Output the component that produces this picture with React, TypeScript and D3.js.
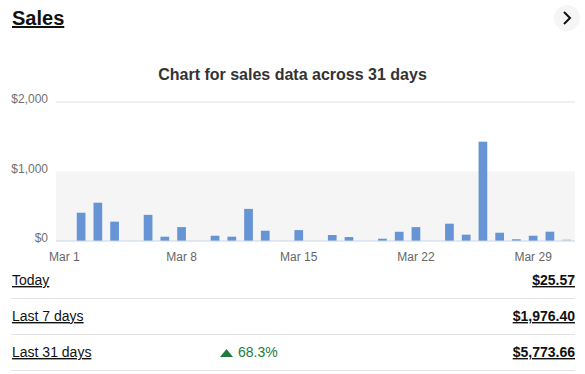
import * as d3 from 'd3'

// daily sales for March (last day = today, partial)
const days = d3.range(1, 32)
const sales = [
  0, 407, 551, 278, 0, 376, 62, 200, 0, 76,
  62, 462, 148, 0, 157, 0, 86, 57, 0, 33,
  133, 200, 0, 249, 91, 1429, 119, 25, 76, 134,
  25.57,
]
const yTicks = [0, 1000, 2000]
const xTickDays = [1, 8, 15, 22, 29]

const summaryLabels = ['Today', 'Last 7 days', 'Last 31 days']
const summaryValues = ['$25.57', '$1,976.40', '$5,773.66']
const summaryChange = [null, null, '68.3%']

const W = 585, H = 374
const M = { top: 102, right: 10, bottom: 133, left: 56 }
const FONT = 'Arial, "Liberation Sans", sans-serif'

export default function App() {
  const x = d3.scaleBand<number>().domain(days).range([M.left, W - M.right]).paddingInner(0.48).paddingOuter(0.24)
  const y = d3.scaleLinear().domain([0, 2000]).range([H - M.bottom, M.top])
  const fmt = (v: number) => '$' + d3.format(',')(v)

  return (
    <svg width={W} height={H} style={{ position: 'absolute', left: 0, top: 0, fontFamily: FONT }}>
      {/* header */}
      <text x={12} y={25} fontSize={20} fontWeight={700} fill="#111" textDecoration="underline">Sales</text>
      <circle cx={567} cy={18} r={13} fill="#f5f5f5" />
      <path d="M564 12 L570 18 L564 24" fill="none" stroke="#111" strokeWidth={2} />

      <text x={292.5} y={80} textAnchor="middle" fontSize={16} fontWeight={700} fill="#333">
        Chart for sales data across 31 days
      </text>

      {/* grid + band */}
      <rect x={M.left} y={y(1000)} width={W - M.right - M.left} height={y(0) - y(1000)} fill="#f5f5f5" />
      <line x1={M.left} x2={W - M.right} y1={y(2000)} y2={y(2000)} stroke="#f0f0f0" strokeWidth={2} />

      {yTicks.map(t => (
        <text key={t} x={48} y={y(t) + 1} textAnchor="end" fontSize={12} fill="#707070">{fmt(t)}</text>
      ))}

      {sales.map((v, i) => (
        <rect
          key={i}
          x={x(days[i])}
          y={y(v)}
          width={x.bandwidth()}
          height={y(0) - y(v)}
          fill={i === sales.length - 1 ? '#d6d6d6' : '#6694d4'}
        />
      ))}
      <line x1={M.left} x2={W - M.right} y1={y(0)} y2={y(0)} stroke="#c9d5ea" strokeWidth={1} />

      {xTickDays.map(d => (
        <text key={d} x={(x(d) ?? 0) + x.bandwidth() / 2} y={261} textAnchor="middle" fontSize={12} fill="#666">
          Mar {d}
        </text>
      ))}

      {/* summary rows */}
      {summaryLabels.map((lab, i) => {
        const cy = 280 + i * 36
        return (
          <g key={lab}>
            <text x={12} y={cy + 5} fontSize={14} fill="#111" textDecoration="underline">{lab}</text>
            <text x={575} y={cy + 5} textAnchor="end" fontSize={14} fontWeight={700} fill="#111" textDecoration="underline">
              {summaryValues[i]}
            </text>
            {summaryChange[i] && (
              <g>
                <path d={`M220 ${cy + 5} L226.5 ${cy - 3} L233 ${cy + 5} Z`} fill="#1e7a40" />
                <text x={238} y={cy + 5} fontSize={14} fill="#1e7a40">{summaryChange[i]}</text>
              </g>
            )}
            <line x1={11} x2={575} y1={cy + 18.5} y2={cy + 18.5} stroke="#e3e3e3" />
          </g>
        )
      })}
    </svg>
  )
}
